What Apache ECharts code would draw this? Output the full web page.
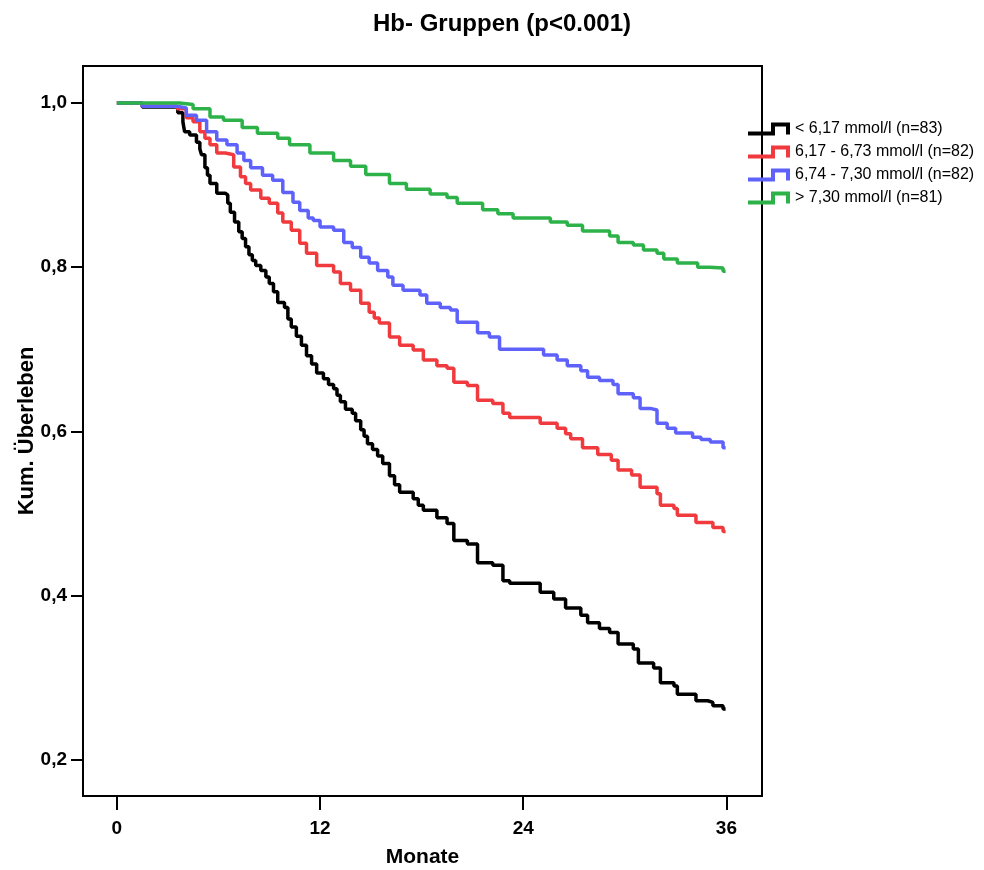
<!DOCTYPE html>
<html>
<head>
<meta charset="utf-8">
<script src="https://cdn.jsdelivr.net/npm/echarts@6/dist/echarts.min.js"></script>
<style>
html,body{margin:0;padding:0;background:#fff;}
#chart{width:984px;height:870px;}
</style>
</head>
<body>
<div id="chart"></div>
<script>
// Group names
const groupNames = [
  '< 6,17 mmol/l (n=83)',
  '6,17 - 6,73 mmol/l (n=82)',
  '6,74 - 7,30 mmol/l (n=82)',
  '> 7,30 mmol/l (n=81)'
];
const seriesColors = ['#000000', '#f03a3e', '#5e62fb', '#2db24a'];

// Kaplan-Meier step points [month, cumulative survival]
const groupLow = [[0,1.0],[1.5,0.995],[3.6,0.988],[3.9,0.977],[4.0,0.965],[4.3,0.961],[4.7,0.952],[4.9,0.944],[5.0,0.937],[5.2,0.921],[5.35,0.912],[5.5,0.902],[5.9,0.890],[6.4,0.888],[6.55,0.878],[6.7,0.867],[6.95,0.855],[7.2,0.843],[7.4,0.835],[7.6,0.825],[7.8,0.815],[8.0,0.808],[8.2,0.802],[8.5,0.796],[8.8,0.788],[9.0,0.780],[9.25,0.770],[9.5,0.757],[9.9,0.751],[10.1,0.737],[10.3,0.727],[10.6,0.716],[10.9,0.705],[11.2,0.692],[11.5,0.682],[11.8,0.671],[12.2,0.664],[12.5,0.657],[12.8,0.652],[13.0,0.644],[13.2,0.636],[13.5,0.627],[13.9,0.622],[14.1,0.613],[14.4,0.602],[14.6,0.594],[14.8,0.585],[15.1,0.578],[15.4,0.570],[15.7,0.561],[16.1,0.546],[16.4,0.535],[16.7,0.526],[17.5,0.518],[17.8,0.510],[18.1,0.504],[18.9,0.495],[19.5,0.488],[19.9,0.467],[20.7,0.463],[21.3,0.440],[22.2,0.437],[22.8,0.418],[23.2,0.415],[25.0,0.404],[25.8,0.396],[26.5,0.385],[27.4,0.376],[27.8,0.367],[28.5,0.360],[29.1,0.355],[29.6,0.341],[30.5,0.335],[30.8,0.318],[31.7,0.312],[32.1,0.294],[32.9,0.290],[33.1,0.280],[34.2,0.272],[34.9,0.270],[35.2,0.266],[35.8,0.262],[35.95,0.262]];
const groupMidLow = [[0,1.0],[1.5,0.996],[3.55,0.993],[4.1,0.982],[4.5,0.977],[4.9,0.965],[5.2,0.957],[5.5,0.949],[5.9,0.939],[6.4,0.937],[6.9,0.922],[7.3,0.910],[7.6,0.902],[7.9,0.894],[8.5,0.884],[9.0,0.878],[9.5,0.866],[9.8,0.855],[10.3,0.845],[10.8,0.829],[11.2,0.817],[11.8,0.802],[12.8,0.794],[13.2,0.780],[13.8,0.772],[14.4,0.756],[14.9,0.745],[15.2,0.738],[15.5,0.732],[16.1,0.715],[16.7,0.705],[17.5,0.699],[18.1,0.687],[18.9,0.680],[19.5,0.677],[19.9,0.660],[20.7,0.656],[21.3,0.638],[22.2,0.634],[22.8,0.622],[23.2,0.617],[25.0,0.610],[26.0,0.604],[26.5,0.597],[26.8,0.591],[27.5,0.580],[28.4,0.572],[29.2,0.565],[29.6,0.553],[30.4,0.547],[30.9,0.532],[31.9,0.524],[32.1,0.510],[32.9,0.506],[33.1,0.498],[34.2,0.489],[35.2,0.483],[35.8,0.478],[35.95,0.478]];
const groupMidHigh = [[0,1.0],[1.5,0.996],[3.55,0.994],[4.1,0.985],[4.7,0.979],[5.3,0.965],[5.9,0.955],[6.5,0.949],[7.1,0.939],[7.5,0.930],[7.9,0.921],[8.6,0.912],[9.2,0.906],[9.8,0.891],[10.4,0.879],[10.8,0.869],[11.3,0.860],[11.6,0.857],[12.0,0.849],[12.8,0.845],[13.4,0.830],[13.9,0.824],[14.4,0.812],[14.9,0.805],[15.4,0.796],[16.0,0.788],[16.3,0.778],[16.9,0.772],[17.9,0.766],[18.3,0.756],[19.1,0.751],[19.7,0.748],[20.1,0.733],[21.3,0.720],[22.0,0.715],[22.6,0.700],[25.2,0.693],[26.0,0.687],[26.6,0.680],[27.4,0.674],[27.8,0.666],[28.5,0.662],[29.3,0.657],[29.6,0.646],[30.5,0.641],[30.9,0.628],[31.5,0.626],[31.9,0.610],[32.5,0.604],[33.0,0.598],[34.0,0.593],[34.5,0.590],[35.05,0.587],[35.8,0.580],[35.95,0.580]];
const groupHigh = [[0,1.0],[3.0,1.0],[3.7,0.998],[4.5,0.993],[5.5,0.983],[6.3,0.979],[7.4,0.970],[8.3,0.963],[9.5,0.957],[10.2,0.949],[11.4,0.939],[12.8,0.930],[13.8,0.923],[14.7,0.913],[16.1,0.902],[17.1,0.895],[18.5,0.889],[19.5,0.885],[20.1,0.878],[21.6,0.870],[22.5,0.865],[23.4,0.860],[25.6,0.855],[26.6,0.851],[27.5,0.844],[29.1,0.838],[29.6,0.830],[30.5,0.827],[31.1,0.821],[31.9,0.817],[32.3,0.810],[33.1,0.805],[34.3,0.800],[35.0,0.799],[35.8,0.795],[35.95,0.795]];

const xTicks = [0, 12, 24, 36];
const yTicks = [0.2, 0.4, 0.6, 0.8, 1.0];

const groupData = [groupLow, groupMidLow, groupMidHigh, groupHigh];
const FONT = '"Liberation Sans", Arial, Helvetica, sans-serif';
const stepIcon = 'path://M0,9 H23 V0 H42 V12 H38 V4 H27 V13 H0 Z';

const chart = echarts.init(document.getElementById('chart'), null, {renderer: 'canvas'});
chart.setOption({
  animation: false,
  backgroundColor: '#ffffff',
  title: {
    text: 'Hb- Gruppen (p<0.001)',
    left: 368, top: 7,
    textStyle: {fontFamily: FONT, fontWeight: 'bold', fontSize: 24, color: '#000'}
  },
  legend: {
    orient: 'vertical',
    left: 748, top: 121, padding: 0,
    itemWidth: 42, itemHeight: 13, itemGap: 7,
    icon: stepIcon,
    symbolKeepAspect: false,
    itemStyle: {borderWidth: 0},
    textStyle: {fontFamily: FONT, fontSize: 16, color: '#000'},
    data: groupNames
  },
  grid: {
    left: 83, right: 222, top: 66, bottom: 74,
    show: true, borderColor: '#000', borderWidth: 2,
    containLabel: false, outerBoundsMode: 'none'
  },
  xAxis: {
    type: 'value', min: -2, max: 38.1,
    name: 'Monate', nameLocation: 'middle', nameGap: 51, nameMoveOverlap: false,
    nameTextStyle: {fontFamily: FONT, fontWeight: 'bold', fontSize: 21, color: '#000'},
    axisLine: {show: true, onZero: false, lineStyle: {color: '#000', width: 2}},
    axisTick: {show: true, customValues: xTicks, length: 14, inside: false, lineStyle: {color: '#000', width: 2}},
    axisLabel: {customValues: xTicks, margin: 23, fontFamily: FONT, fontWeight: 'bold', fontSize: 19, color: '#000'},
    splitLine: {show: false}
  },
  yAxis: {
    type: 'value', min: 0.156, max: 1.045,
    name: 'Kum. Überleben', nameLocation: 'middle', nameGap: 45, nameMoveOverlap: false,
    nameTextStyle: {fontFamily: FONT, fontWeight: 'bold', fontSize: 22, color: '#000'},
    axisLine: {show: true, onZero: false, lineStyle: {color: '#000', width: 2}},
    axisTick: {show: true, customValues: yTicks, length: 12, inside: false, lineStyle: {color: '#000', width: 2}},
    axisLabel: {customValues: yTicks, margin: 16, fontFamily: FONT, fontWeight: 'bold', fontSize: 19, color: '#000',
      formatter: v => v.toFixed(1).replace('.', ',')},
    splitLine: {show: false}
  },
  series: groupNames.map((name, i) => ({
    name: name,
    type: 'line',
    step: 'end',
    showSymbol: false,
    symbol: 'none',
    data: groupData[i],
    color: seriesColors[i],
    itemStyle: {color: seriesColors[i], borderWidth: 0},
    lineStyle: {color: seriesColors[i], width: 3.5},
    z: 2 + i
  }))
});
</script>
</body>
</html>
